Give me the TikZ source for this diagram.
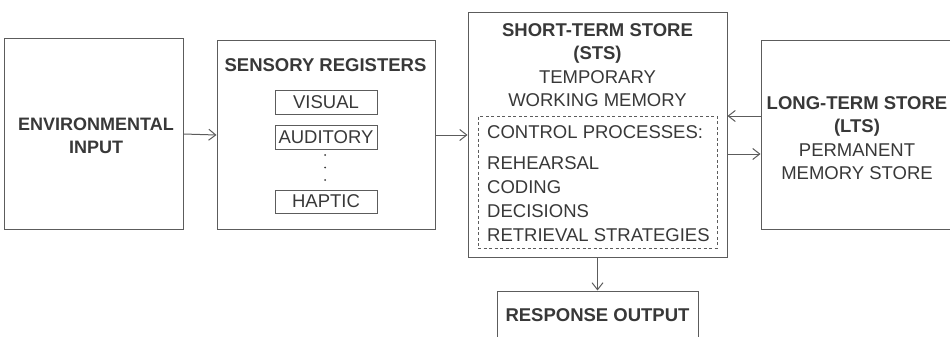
\documentclass[tikz,border=0pt]{standalone}
\usepackage{fontspec}
\setmainfont{Liberation Sans}
\usetikzlibrary{arrows.meta}
\definecolor{ink}{gray}{0.22}
\definecolor{edge}{gray}{0.36}
\tikzset{
  box/.style={draw=edge, line width=1pt, inner sep=0pt, rectangle},
  dbox/.style={draw=edge, line width=0.9pt, dashed, dash pattern=on 3pt off 2.5pt, inner sep=0pt, rectangle},
  txt/.style={text=ink, inner sep=0pt, align=center, font=\fontsize{18.5}{23.5}\selectfont},
  ltxt/.style={text=ink, inner sep=0pt, align=left, anchor=west, font=\fontsize{18.5}{24}\selectfont},
  conn/.style={draw=edge, line width=1pt, arrows={-Straight Barb[length=7pt,width=11pt]}}
}
\begin{document}
\begin{tikzpicture}[x=1pt,y=-1pt]
\useasboundingbox (0,0) rectangle (950,337);
% boxes
\node[box, minimum width=179pt, minimum height=190pt] (env) at (93.5,134) {};
\node[box, minimum width=218pt, minimum height=188pt] (sens) at (326,135) {};
\node[box, minimum width=102pt, minimum height=24pt] (vis) at (326,102) {};
\node[box, minimum width=102pt, minimum height=24pt] (aud) at (326,137) {};
\node[box, minimum width=102pt, minimum height=23pt] (hap) at (326,201.5) {};
\node[box, minimum width=259pt, minimum height=244pt] (sts) at (597.5,135) {};
\node[dbox, minimum width=239pt, minimum height=132pt] (ctrl) at (597.5,182) {};
\node[box, minimum width=194pt, minimum height=188pt] (lts) at (858,135) {};
\node[box, minimum width=201pt, minimum height=58pt] (resp) at (597.5,320) {};
% texts
\node[txt, font=\fontsize{18}{22.5}\selectfont] (envt) at (96,136) {\bfseries ENVIRONMENTAL\\\bfseries INPUT};
\node[txt] (senst) at (325.5,65) {\bfseries SENSORY REGISTERS};
\node[txt] (vist) at (vis) {VISUAL};
\node[txt] (audt) at (aud) {AUDITORY};
\node[txt] (hapt) at (hap) {HAPTIC};
\fill[ink] (325,155) circle (1pt) (325,167.5) circle (1pt) (325,180) circle (1pt);
\node[txt] (stst) at (597.5,65) {\bfseries SHORT-TERM STORE\\\bfseries (STS)\\TEMPORARY\\WORKING MEMORY};
\node[ltxt] (cpt) at (487,132) {CONTROL PROCESSES:};
\node[ltxt] (list) at (487,199) {REHEARSAL\\CODING\\DECISIONS\\RETRIEVAL STRATEGIES};
\node[txt] (ltst) at (857,138) {\bfseries LONG-TERM STORE\\\bfseries (LTS)\\PERMANENT\\MEMORY STORE};
\node[txt] (respt) at (597.5,315) {\bfseries RESPONSE OUTPUT};
% connectors
\draw[conn] (env.east) -- (sens.west);
\draw[conn] (sens.east) -- (sts.west);
\draw[conn] ([yshift=19pt]lts.west) -- ([yshift=19pt]sts.east);
\draw[conn] ([yshift=-19pt]sts.east) -- ([yshift=-19pt]lts.west);
\draw[conn] (sts.south) -- (resp.north);
\end{tikzpicture}
\end{document}
